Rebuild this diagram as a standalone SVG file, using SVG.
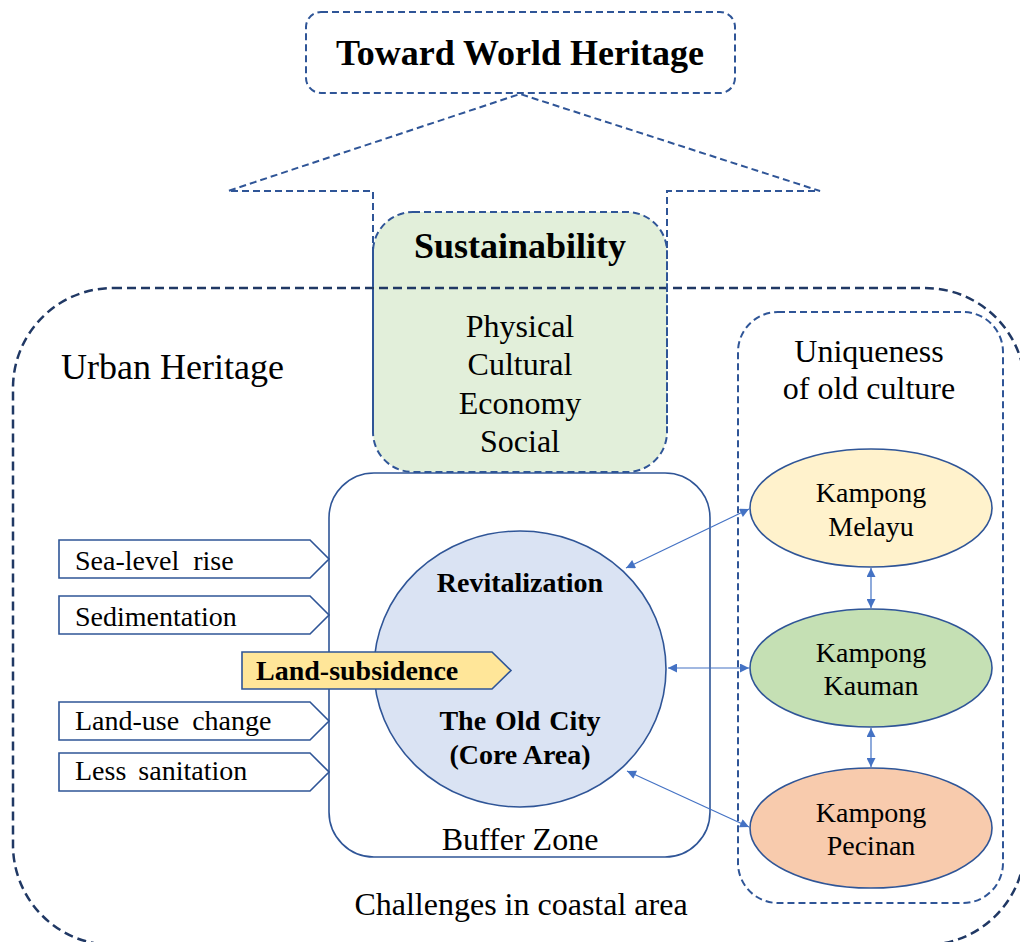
<svg xmlns="http://www.w3.org/2000/svg" width="1020" height="942" viewBox="0 0 1020 942">
  <defs>
    <style>
      .t { font-family: "Liberation Serif", "Times New Roman", serif; fill: #000; }
      .b { font-weight: bold; }
      .mid { text-anchor: middle; }
      .dash { fill: none; stroke: #2F5597; stroke-width: 2; stroke-dasharray: 7 4; }
      .solid { stroke: #2F5597; stroke-width: 1.6; }
      .link { stroke: #4472C4; stroke-width: 1.2; fill: none; marker-start: url(#ah); marker-end: url(#ah); }
    </style>
    <marker id="ah" viewBox="0 0 10 10" refX="10" refY="5" markerWidth="11" markerHeight="9" markerUnits="userSpaceOnUse" orient="auto-start-reverse">
      <path d="M0,0 L10,5 L0,10 z" fill="#4472C4"/>
    </marker>
  </defs>

  <!-- Sustainability block -->
  <g id="sustainability">
    <rect x="373" y="212" width="294" height="260" rx="40" fill="#E2EFDA" class="dash" style="fill:#E2EFDA"/>
    <text class="t b mid" x="520" y="258" font-size="36">Sustainability</text>
    <text class="t mid" x="520" y="337" font-size="32">Physical</text>
    <text class="t mid" x="520" y="375" font-size="32">Cultural</text>
    <text class="t mid" x="520" y="414" font-size="32">Economy</text>
    <text class="t mid" x="520" y="452" font-size="32">Social</text>
  </g>

  <!-- Urban heritage boundary -->
  <g id="urban-heritage">
    <rect x="13" y="288" width="1012" height="657" rx="100" fill="none" stroke="#203864" stroke-width="2.5" stroke-dasharray="9 5"/>
    <text class="t" x="61" y="379" font-size="36">Urban Heritage</text>
    <text class="t mid" x="521" y="915" font-size="32">Challenges in coastal area</text>
  </g>

  <!-- Upward arrow -->
  <g id="up-arrow">
    <path class="dash" d="M373,430 L373,191 L228,191 L520,94 L820,191 L667,191 L667,430"/>
  </g>

  <!-- Goal -->
  <g id="world-heritage">
    <rect x="306" y="12" width="429" height="81" rx="15" fill="#fff" class="dash"/>
    <text class="t b mid" x="520" y="65" font-size="36">Toward World Heritage</text>
  </g>

  <!-- Buffer zone -->
  <g id="buffer-zone">
    <rect x="329" y="473" width="381" height="384" rx="45" fill="none" class="solid"/>
    <text class="t mid" x="520" y="850" font-size="32">Buffer Zone</text>
  </g>

  <!-- Core area -->
  <g id="old-city">
    <ellipse cx="520" cy="669" rx="146" ry="138" fill="#DAE3F3" class="solid"/>
    <text class="t b mid" x="520" y="592" font-size="28">Revitalization</text>
    <text class="t b mid" x="520" y="730" font-size="28" word-spacing="2">The Old City</text>
    <text class="t b mid" x="520" y="764" font-size="28">(Core Area)</text>
  </g>

  <!-- Coastal challenges -->
  <g id="sea-level-rise">
    <path d="M59,540 L310,540 L329,559 L310,578 L59,578 Z" fill="#fff" class="solid"/>
    <text class="t" x="75" y="570" font-size="28" word-spacing="7">Sea-level rise</text>
  </g>
  <g id="sedimentation">
    <path d="M59,596 L310,596 L329,615 L310,634 L59,634 Z" fill="#fff" class="solid"/>
    <text class="t" x="75" y="626" font-size="28">Sedimentation</text>
  </g>
  <g id="land-use-change">
    <path d="M59,702 L310,702 L329,721 L310,740 L59,740 Z" fill="#fff" class="solid"/>
    <text class="t" x="75" y="730" font-size="28" word-spacing="6">Land-use change</text>
  </g>
  <g id="less-sanitation">
    <path d="M59,753 L310,753 L329,772 L310,791 L59,791 Z" fill="#fff" class="solid"/>
    <text class="t" x="75" y="780" font-size="28" word-spacing="5">Less sanitation</text>
  </g>
  <g id="land-subsidence">
    <path d="M242,652 L492,652 L511,670.5 L492,689 L242,689 Z" fill="#FFE699" class="solid"/>
    <text class="t b" x="256" y="680" font-size="28">Land-subsidence</text>
  </g>

  <!-- Cultural uniqueness -->
  <g id="uniqueness">
    <rect x="738" y="312" width="265" height="591" rx="40" class="dash"/>
    <text class="t mid" x="869" y="362" font-size="32">Uniqueness</text>
    <text class="t mid" x="869" y="399" font-size="32">of old culture</text>
  </g>
  <g id="kampong-melayu">
    <ellipse cx="871" cy="508" rx="121" ry="59" fill="#FFF2CC" class="solid"/>
    <text class="t mid" x="871" y="502" font-size="28">Kampong</text>
    <text class="t mid" x="871" y="536" font-size="28">Melayu</text>
  </g>
  <g id="kampong-kauman">
    <ellipse cx="871" cy="668" rx="121" ry="59" fill="#C5E0B4" class="solid"/>
    <text class="t mid" x="871" y="662" font-size="28">Kampong</text>
    <text class="t mid" x="871" y="695" font-size="28">Kauman</text>
  </g>
  <g id="kampong-pecinan">
    <ellipse cx="871" cy="828" rx="121" ry="60" fill="#F8CBAD" class="solid"/>
    <text class="t mid" x="871" y="822" font-size="28">Kampong</text>
    <text class="t mid" x="871" y="855" font-size="28">Pecinan</text>
  </g>

  <!-- Connectors -->
  <g id="connectors">
    <line class="link" x1="626" y1="568" x2="749" y2="509"/>
    <line class="link" x1="668" y1="668" x2="749" y2="668"/>
    <line class="link" x1="627" y1="771" x2="749" y2="827"/>
    <line class="link" x1="871" y1="568" x2="871" y2="608"/>
    <line class="link" x1="871" y1="728" x2="871" y2="767"/>
  </g>
</svg>
